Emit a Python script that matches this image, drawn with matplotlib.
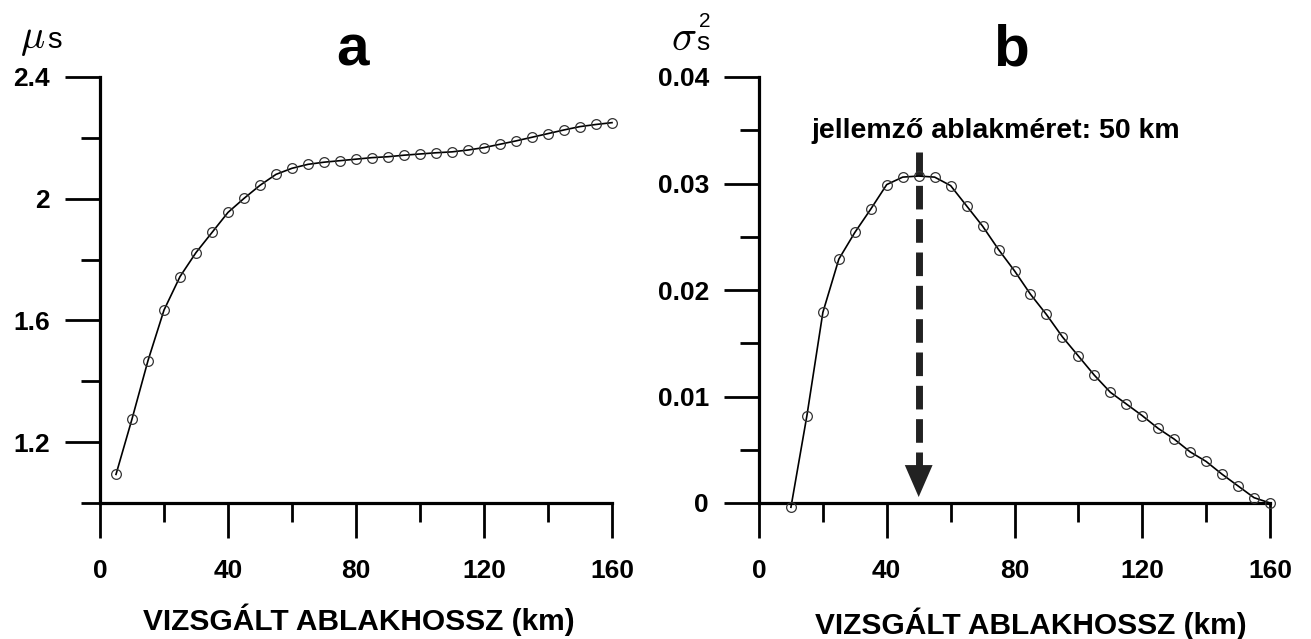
import numpy as np
import matplotlib
matplotlib.use('Agg')
from matplotlib import pyplot as plt
from matplotlib.ticker import FixedLocator

plt.rcParams['font.family'] = ['Liberation Sans', 'DejaVu Sans']

# ablakhossz (km)
x_a = [5, 10, 15, 20, 25, 30, 35, 40, 45, 50, 55, 60, 65, 70, 75, 80,
       85, 90, 95, 100, 105, 110, 115, 120, 125, 130, 135, 140, 145, 150, 155, 160]
mu_s = [1.094, 1.276, 1.468, 1.634, 1.744, 1.823, 1.889, 1.955, 2.001, 2.044,
        2.080, 2.100, 2.113, 2.120, 2.125, 2.130, 2.135, 2.138, 2.143, 2.147,
        2.151, 2.154, 2.160, 2.168, 2.179, 2.190, 2.202, 2.214, 2.226, 2.237,
        2.244, 2.250]

x_b = [10, 15, 20, 25, 30, 35, 40, 45, 50, 55, 60, 65, 70, 75, 80, 85,
       90, 95, 100, 105, 110, 115, 120, 125, 130, 135, 140, 145, 150, 155, 160]
sigma2_s = [-0.0004, 0.0082, 0.0179, 0.0229, 0.0254, 0.0276, 0.0299, 0.0306,
            0.0307, 0.0306, 0.0298, 0.0279, 0.0260, 0.0238, 0.0218, 0.0196,
            0.0177, 0.0156, 0.0138, 0.0120, 0.0104, 0.0093, 0.0082, 0.0070,
            0.0060, 0.0048, 0.0039, 0.0027, 0.0016, 0.0005, 0.0]

xticks = [0, 40, 80, 120, 160]
xminor = [20, 60, 100, 140]
yticks_a = [1.2, 1.6, 2.0, 2.4]
ylabels_a = ['1.2', '1.6', '2', '2.4']
yminor_a = [1.0, 1.4, 1.8, 2.2]
yticks_b = [0, 0.01, 0.02, 0.03, 0.04]
ylabels_b = ['0', '0.01', '0.02', '0.03', '0.04']
yminor_b = [0.005, 0.015, 0.025, 0.035]
peak_x = 50
xlabel = 'VIZSGÁLT ABLAKHOSSZ (km)'

fig = plt.figure(figsize=(13.11, 6.39), dpi=100)
ax1 = fig.add_axes([100/1311, 136/639, 512/1311, 426/639])
ax2 = fig.add_axes([759/1311, 136/639, 511/1311, 426/639])


def style(ax, yt, yl, ym, ylim):
    ax.set_xlim(0, 160)
    ax.set_ylim(*ylim)
    for s in ['top', 'right']:
        ax.spines[s].set_visible(False)
    for s in ['left', 'bottom']:
        ax.spines[s].set_linewidth(2.3)
    ax.set_xticks(xticks)
    ax.set_xticklabels([str(t) for t in xticks])
    ax.xaxis.set_minor_locator(FixedLocator(xminor))
    ax.set_yticks(yt)
    ax.set_yticklabels(yl)
    ax.yaxis.set_minor_locator(FixedLocator(ym))
    ax.tick_params(which='major', length=25, width=2.0, direction='out')
    ax.tick_params(which='minor', length=13.5, width=2.0, direction='out')
    ax.tick_params(axis='x', which='major', pad=15, labelsize=19)
    ax.tick_params(axis='y', which='major', pad=11, labelsize=19)
    for lab in ax.get_xticklabels() + ax.get_yticklabels():
        lab.set_fontweight('bold')


style(ax1, yticks_a, ylabels_a, yminor_a, (1.0, 2.4))
style(ax2, yticks_b, ylabels_b, yminor_b, (0, 0.04))

kw = dict(color='black', lw=1.2, marker='o', markersize=7, mfc='none',
          mec='#333333', mew=0.9, clip_on=False, zorder=3)
ax1.plot(x_a, mu_s, **kw)
ax2.plot(x_b, sigma2_s, **kw)

# nyil a jellemzo ablakmeretnel
ax2.plot([peak_x, peak_x], [0.0330, 0.0027], color='#222222', lw=5,
         ls=(0, (3.4, 1.4)), solid_capstyle='butt', zorder=2)
ax2.annotate('', xy=(peak_x, 0.0003), xytext=(peak_x, 0.0029),
             arrowprops=dict(arrowstyle='-|>,head_length=1.15,head_width=0.5',
                             color='#222222', lw=0, mutation_scale=20))
ax2.text(74.2, 0.03427, 'jellemző ablakméret: 50 km', ha='center',
         va='baseline', fontsize=20.5, fontweight='bold')

# panel betuk
ax1.text(79, 1.028, 'a', transform=ax1.get_xaxis_transform(), ha='center',
         va='baseline', fontsize=42, fontweight='bold')
ax2.text(79, 1.028, 'b', transform=ax2.get_xaxis_transform(), ha='center',
         va='baseline', fontsize=42, fontweight='bold')

# x tengely feliratok
ax1.text(81, -0.298, xlabel, transform=ax1.get_xaxis_transform(), ha='center',
         va='baseline', fontsize=21.5, fontweight='bold')
ax2.text(85, -0.308, xlabel, transform=ax2.get_xaxis_transform(), ha='center',
         va='baseline', fontsize=21.5, fontweight='bold')

# y tengely feliratok
fig.text(20/1311, 1 - 48/639, r'$\mu$', fontsize=29, math_fontfamily='cm',
         va='baseline', ha='left')
fig.text(47/1311, 1 - 48/639, 's', fontsize=21, va='baseline', ha='left')
fig.text(671/1311, 1 - 50/639, r'$\sigma$', fontsize=30, math_fontfamily='cm',
         va='baseline', ha='left')
fig.text(696/1311, 1 - 50/639, 's', fontsize=19, va='baseline', ha='left')
fig.text(699/1311, 1 - 27/639, '2', fontsize=15, va='baseline', ha='left')

plt.savefig('out.png', dpi=100)
